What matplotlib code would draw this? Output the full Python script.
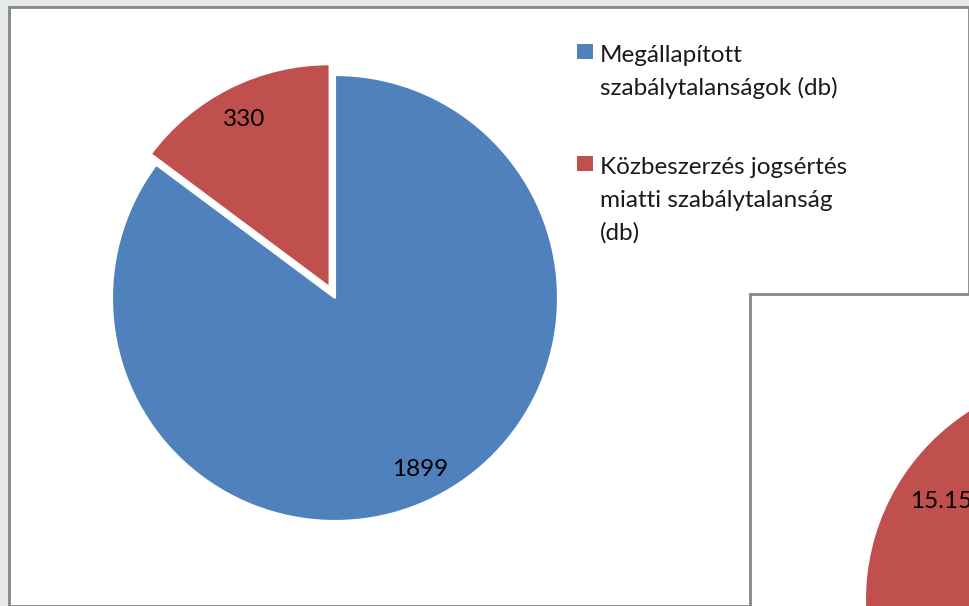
import matplotlib.pyplot as plt
from matplotlib.patches import Rectangle

# main pie data (counts)
categories = ["Megállapított szabálytalanságok (db)",
              "Közbeszerzés jogsértés miatti szabálytalanság (db)"]
counts = [1899, 330]
legend_lines = [["Megállapított", "szabálytalanságok (db)"],
                ["Közbeszerzés jogsértés", "miatti szabálytalanság", "(db)"]]
# second (partly hidden) pie behind in the bottom right corner
second_values = [15.15, 33.6]
second_labels = ["15.15", ""]

blue = "#4F81BD"
red = "#C0504D"
colors = [blue, red]

W, H = 970, 606
fig = plt.figure(figsize=(W / 100, H / 100), dpi=100)
fig.patch.set_facecolor("#E5E9E8")


def fx(x):
    return x / W


def fy(y):
    return 1 - y / H


# outer chart frame
fig.patches.append(Rectangle((fx(9.3), fy(605.5)), fx(968.7) - fx(9.3), fy(7.2) - fy(605.5),
                             transform=fig.transFigure, facecolor="white",
                             edgecolor="#868686", linewidth=2, zorder=-3))

# pie axes, radius 223 px, centre (335, 298)
r = 223
lim = 1.25
side = 2 * lim * r
ax = fig.add_axes([fx(335 - side / 2), fy(298 + side / 2), side / W, side / H])
ax.patch.set_visible(False)
wedges, texts = ax.pie(counts, colors=colors, startangle=90, counterclock=False,
                       explode=[0, 0.054], labels=[str(c) for c in counts],
                       labeldistance=0.85,
                       wedgeprops=dict(edgecolor="white", linewidth=1.5),
                       textprops=dict(fontsize=17.5, family="Lato", color="black"))
for t in texts:
    t.set_ha("center")
    t.set_va("center_baseline")
ax.set_xlim(-lim, lim)
ax.set_ylim(-lim, lim)
ax.axis("off")

# legend drawn by hand so the square sits on the first line, like Excel
entry_top = [62, 174]
for i, lines in enumerate(legend_lines):
    base = entry_top[i]
    fig.patches.append(Rectangle((fx(577), fy(base - 3)), 16 / W, 15 / H,
                                 transform=fig.transFigure, facecolor=colors[i],
                                 edgecolor="none", zorder=-2))
    for j, line in enumerate(lines):
        fig.text(fx(600), fy(base + j * 33), line, fontsize=17.5, family="Lato",
                 color="#1a1a1a", va="baseline", ha="left")

# second chart frame overlapping the corner
fig.patches.append(Rectangle((fx(750.5), fy(700)), fx(1100) - fx(750.5), fy(293.7) - fy(700),
                             transform=fig.transFigure, facecolor="white",
                             edgecolor="#868686", linewidth=2, zorder=-1))

r2 = 224
side2 = 2 * lim * r2
ax2 = fig.add_axes([fx(1090 - side2 / 2), fy(600 + side2 / 2), side2 / W, side2 / H])
ax2.patch.set_visible(False)
w2, t2 = ax2.pie(second_values, colors=[red, blue], startangle=90, counterclock=True,
                 labels=second_labels, labeldistance=0.80,
                 textprops=dict(fontsize=17.5, family="Lato", color="black"))
for t in t2:
    t.set_ha("center")
    t.set_va("center_baseline")
ax2.set_xlim(-lim, lim)
ax2.set_ylim(-lim, lim)
ax2.axis("off")

fig.savefig("out.png", dpi=100, facecolor=fig.get_facecolor())
